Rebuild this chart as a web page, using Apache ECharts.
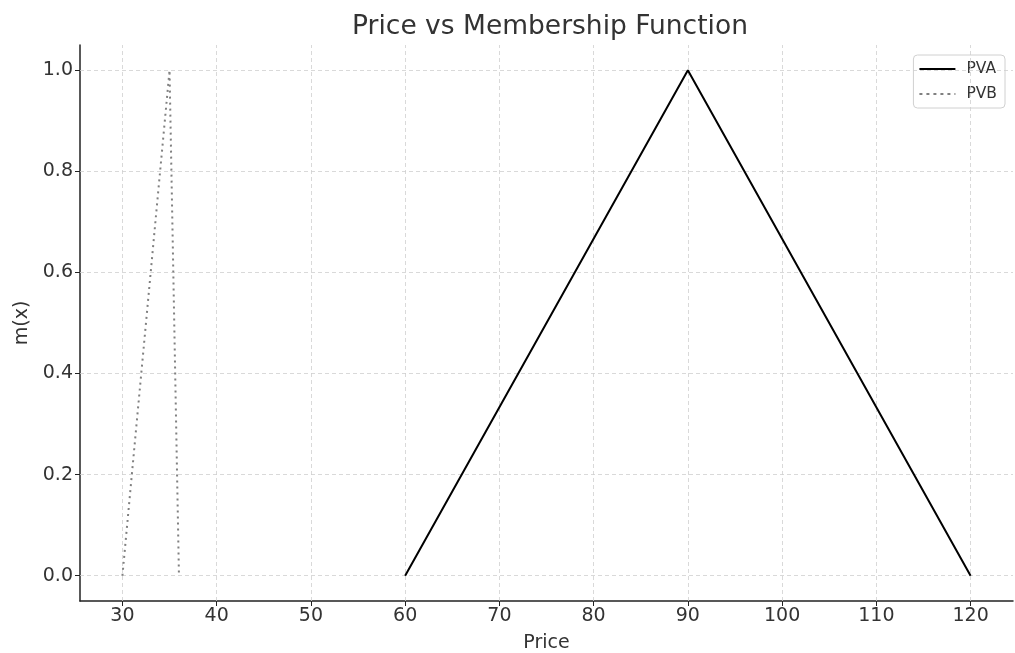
<!DOCTYPE html>
<html>
<head>
<meta charset="utf-8">
<script src="https://cdn.jsdelivr.net/npm/echarts@6/dist/echarts.min.js"></script>
<style>html,body{margin:0;padding:0;background:#fff}#c{width:1015px;height:653px}</style>
</head>
<body>
<div id="c"></div>
<script>
var pvaX = [60, 90, 120];
var pvaY = [0, 1, 0];
var pvbX = [30, 35, 36];
var pvbY = [0, 1, 0];
var xTicks = [30, 40, 50, 60, 70, 80, 90, 100, 110, 120];
var yTicks = [0, 0.2, 0.4, 0.6, 0.8, 1.0];

function zip(a, b) { return a.map(function (v, i) { return [v, b[i]]; }); }
var font = 'DejaVu Sans';
var chart = echarts.init(document.getElementById('c'));
chart.setOption({
  animation: false,
  textStyle: { fontFamily: font },
  title: {
    text: 'Price vs Membership Function', left: 545, textAlign: 'center', top: 9,
    textStyle: { fontFamily: font, fontSize: 26.5, fontWeight: 'normal', color: '#333' }
  },
  legend: {
    right: 10, top: 55, orient: 'vertical', itemGap: 9,
    itemWidth: 36, itemHeight: 14,
    borderColor: '#d0d0d0', borderWidth: 1, borderRadius: 4, padding: [6, 8, 6, 6],
    textStyle: { fontFamily: font, fontSize: 15.5, color: '#333', padding: [0, 0, 0, 6] },
    data: [
      { name: 'PVA', icon: 'path://M0,6 L36,6 L36,8 L0,8 Z' },
      { name: 'PVB', icon: 'path://M0,6 L3,6 L3,8 L0,8 Z M7,6 L10,6 L10,8 L7,8 Z M14,6 L17,6 L17,8 L14,8 Z M21,6 L24,6 L24,8 L21,8 Z M28,6 L31,6 L31,8 L28,8 Z M35,6 L36,6 L36,8 L35,8 Z' }
    ]
  },
  grid: { left: 80, right: 2, top: 45, bottom: 52, containLabel: false, outerBoundsMode: 'none' },
  xAxis: {
    type: 'value', min: 25.5, max: 124.5,
    name: 'Price', nameLocation: 'middle', nameGap: 33,
    nameTextStyle: { fontFamily: font, fontSize: 19, color: '#333' },
    axisLine: { show: true, onZero: false, lineStyle: { color: '#222', width: 1.5 } },
    axisTick: { show: true, length: 5, customValues: xTicks, lineStyle: { color: '#222' } },
    axisLabel: { customValues: xTicks, fontFamily: font, fontSize: 19, color: '#333', margin: 6 },
    splitLine: { show: false }
  },
  yAxis: {
    type: 'value', min: -0.05, max: 1.05,
    name: 'm(x)', nameLocation: 'middle', nameGap: 44, nameRotate: 90,
    nameTextStyle: { fontFamily: font, fontSize: 19, color: '#333' },
    axisLine: { show: true, onZero: false, lineStyle: { color: '#222', width: 1.5 } },
    axisTick: { show: true, length: 5, customValues: yTicks, lineStyle: { color: '#222' } },
    axisLabel: { customValues: yTicks, fontFamily: font, fontSize: 19, color: '#333', margin: 7,
      formatter: function (v) { return v.toFixed(1); } },
    splitLine: { show: false }
  },
  series: [
    {
      name: 'PVA', type: 'line', data: zip(pvaX, pvaY), symbol: 'none',
      lineStyle: { color: '#000', width: 2 }, itemStyle: { color: '#000' }, z: 5,
      markLine: {
        silent: true, symbol: 'none', label: { show: false }, animation: false,
        lineStyle: { color: '#cfcfcf', type: [4, 3], width: 0.8 },
        data: xTicks.map(function (v) { return { xAxis: v }; }).concat(yTicks.map(function (v) { return { yAxis: v }; }))
      }
    },
    {
      name: 'PVB', type: 'line', data: zip(pvbX, pvbY), symbol: 'none',
      lineStyle: { color: '#808080', width: 2, type: [2, 4] }, itemStyle: { color: '#808080' }, z: 5
    }
  ]
});
</script>
</body>
</html>
